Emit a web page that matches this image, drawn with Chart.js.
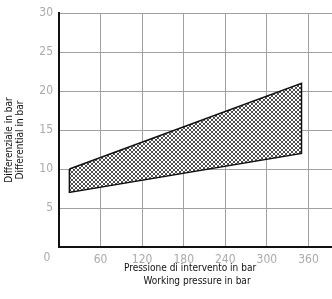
<!DOCTYPE html>
<html>
<head>
<meta charset="utf-8">
<script src="https://cdn.jsdelivr.net/npm/chart.js@4/dist/chart.umd.min.js"></script>
<style>
  html, body { margin: 0; padding: 0; background: #fff; }
  #wrap { width: 332px; height: 299px; }
</style>
</head>
<body>
<div id="wrap"><canvas id="chart" width="332" height="299"></canvas></div>
<script>
// ---------- data ----------
const pressure = [15, 350];          // working pressure, bar
const diffUpper = [10, 21];          // upper differential, bar
const diffLower = [7, 12];           // lower differential, bar
const xTicks = [0, 60, 120, 180, 240, 300, 360];
const yTicks = [0, 5, 10, 15, 20, 25, 30];
const xTitle = ['Pressione di intervento in bar', 'Working pressure in bar'];
const yTitle = ['Differenziale in bar', 'Differential in bar'];

const FONT = "'Liberation Sans Narrow', 'DejaVu Sans Condensed', sans-serif";

// closed band outline: upper edge left->right, lower edge right->left
const band = [];
pressure.forEach((p, i) => band.push({ x: p, y: diffUpper[i] }));
for (let i = pressure.length - 1; i >= 0; i--) band.push({ x: pressure[i], y: diffLower[i] });
band.push({ x: pressure[0], y: diffUpper[0] });

// ---------- cross hatch ----------
function hatchPattern() {
  const c = document.createElement('canvas');
  c.width = 4; c.height = 4;
  const g = c.getContext('2d');
  g.fillStyle = '#fff';
  g.fillRect(0, 0, 4, 4);
  g.strokeStyle = '#3a3a3a';
  g.lineWidth = 0.9;
  g.beginPath();
  g.moveTo(0, 0); g.lineTo(4, 4);
  g.moveTo(4, 0); g.lineTo(0, 4);
  g.stroke();
  return g.createPattern(c, 'repeat');
}

// ---------- extra text (titles + shared origin) ----------
const textPlugin = {
  id: 'extraText',
  afterDraw(chart) {
    const ctx = chart.ctx;
    ctx.save();
    ctx.textAlign = 'center';
    ctx.textBaseline = 'middle';
    ctx.fillStyle = '#aaa';
    ctx.font = '12px ' + FONT;
    ctx.fillText('0', 47, 258);

    ctx.fillStyle = '#111';
    ctx.font = '10px ' + FONT;
    ctx.fillText(xTitle[0], 190, 268);
    ctx.fillText(xTitle[1], 197, 281);

    ctx.translate(9, 140);
    ctx.rotate(-Math.PI / 2);
    ctx.fillText(yTitle[0], 0, 0);
    ctx.fillText(yTitle[1], 0, 11);
    ctx.restore();
  }
};

new Chart(document.getElementById('chart'), {
  type: 'line',
  data: {
    datasets: [{
      data: band,
      borderColor: '#111',
      borderWidth: 1.5,
      backgroundColor: hatchPattern(),
      fill: 'shape',
      tension: 0,
      pointRadius: 0
    }]
  },
  options: {
    responsive: false,
    animation: false,
    layout: { padding: { top: 11, right: 0, left: 0, bottom: 0 } },
    plugins: { legend: { display: false }, tooltip: { enabled: false } },
    scales: {
      x: {
        type: 'linear',
        min: 0,
        max: 394,
        afterBuildTicks: (s) => { s.ticks = xTicks.map(v => ({ value: v })); },
        afterFit: (s) => { s.height = 52; },
        grid: { color: '#a0a0a0', lineWidth: 1, drawTicks: false },
        border: { color: '#111', width: 2 },
        ticks: {
          padding: 6,
          color: '#aaa',
          font: { family: FONT, size: 12 },
          callback: (v) => v === 0 ? '' : String(v)
        }
      },
      y: {
        min: 0,
        max: 30,
        afterBuildTicks: (s) => { s.ticks = yTicks.map(v => ({ value: v })); },
        afterFit: (s) => { s.width = 59; },
        grid: { color: '#a0a0a0', lineWidth: 1, drawTicks: false },
        border: { color: '#111', width: 2 },
        ticks: {
          padding: 6,
          color: '#aaa',
          font: { family: FONT, size: 12 },
          callback: (v) => v === 0 ? '' : String(v)
        }
      }
    }
  },
  plugins: [textPlugin]
});
</script>
</body>
</html>
